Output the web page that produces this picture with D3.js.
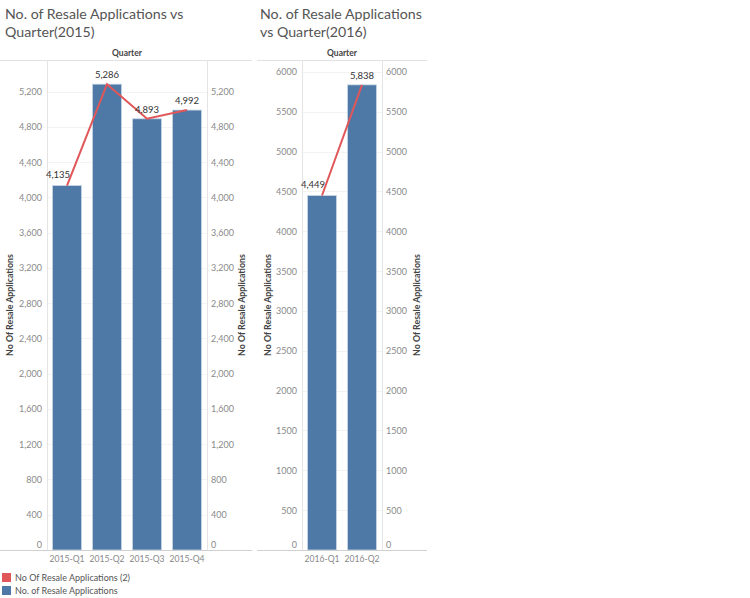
<!DOCTYPE html>
<html>
<head>
<meta charset="utf-8">
<script src="https://cdn.jsdelivr.net/npm/d3@7"></script>
<style>
  html, body { margin: 0; padding: 0; background: #fff; }
  svg { display: block; font-family: Lato, "Open Sans", sans-serif; }
</style>
</head>
<body>
<svg id="chart" width="750" height="598"></svg>
<script>
// ---- data ----
const quarters2015 = ["2015-Q1", "2015-Q2", "2015-Q3", "2015-Q4"];
const values2015 = [4135, 5286, 4893, 4992];
const ticks2015 = [0, 400, 800, 1200, 1600, 2000, 2400, 2800, 3200, 3600, 4000, 4400, 4800, 5200];

const quarters2016 = ["2016-Q1", "2016-Q2"];
const values2016 = [4449, 5838];
const ticks2016 = [0, 500, 1000, 1500, 2000, 2500, 3000, 3500, 4000, 4500, 5000, 5500, 6000];

const titles = [["No. of Resale Applications vs", "Quarter(2015)"], ["No. of Resale Applications", "vs Quarter(2016)"]];
const legendLabels = ["No Of Resale Applications (2)", "No. of Resale Applications"];
const axisTitle = "No Of Resale Applications";
const headerTitle = "Quarter";

// ---- style ----
const BAR = "#4e79a7", LINE = "#e15759";
const svg = d3.select("#chart");

function panel(cfg) {
  const g = svg.append("g");
  const x = d3.scaleBand().domain(cfg.cats).range([cfg.x0, cfg.x1]).paddingInner(0.25).paddingOuter(0.125);
  const y = d3.scaleLinear().domain([0, cfg.ymax]).range([550, 60]);

  // title
  const t = g.append("text").attr("x", cfg.tx).attr("y", 19)
    .attr("font-size", 14.2).attr("fill", "#555");
  cfg.title.forEach((s, i) => t.append("tspan").attr("x", cfg.tx).attr("dy", i ? 18 : 0).text(s));

  // header
  g.append("text").attr("x", (cfg.x0 + cfg.x1) / 2).attr("y", 56).attr("text-anchor", "middle")
    .attr("font-size", 8.5).attr("font-weight", "bold").attr("fill", "#444").text(headerTitle);
  g.append("line").attr("x1", cfg.lx0).attr("x2", cfg.lx1).attr("y1", 60.5).attr("y2", 60.5)
    .attr("stroke", "#e2e2e2");

  // gridlines
  g.append("g").selectAll("line").data(cfg.ticks.filter(d => d > 0)).join("line")
    .attr("x1", cfg.x0).attr("x2", cfg.x1)
    .attr("y1", d => Math.round(y(d)) + 0.5).attr("y2", d => Math.round(y(d)) + 0.5)
    .attr("stroke", "#f3f3f3");

  // vertical borders
  [cfg.x0, cfg.x1].forEach(xx => g.append("line").attr("x1", xx + 0.5).attr("x2", xx + 0.5)
    .attr("y1", 60).attr("y2", 550).attr("stroke", "#e4e4e4"));

  // axes
  const fmt = cfg.fmt;
  const left = g.append("g").attr("transform", `translate(${cfg.x0 - 5},0)`)
    .call(d3.axisLeft(y).tickValues(cfg.ticks).tickFormat(fmt).tickSize(0).tickPadding(0));
  const right = g.append("g").attr("transform", `translate(${cfg.x1 + 4},0)`)
    .call(d3.axisRight(y).tickValues(cfg.ticks).tickFormat(fmt).tickSize(0).tickPadding(0));
  [left, right].forEach(a => {
    a.select(".domain").remove();
    a.selectAll("text").attr("font-size", 9).attr("fill", "#8a8a8a").attr("font-family", "Lato, sans-serif");
    a.selectAll(".tick").filter(d => d === 0).select("text").attr("dy", "-0.3em");
  });

  // bars
  g.append("g").selectAll("rect").data(cfg.vals).join("rect")
    .attr("x", (d, i) => x(cfg.cats[i]) + 0.5)
    .attr("width", x.bandwidth() - 1)
    .attr("y", d => y(d))
    .attr("height", d => 550 - y(d))
    .attr("fill", BAR).attr("stroke", "#c9d6e4").attr("stroke-width", 0.8);

  // bottom baseline
  g.append("line").attr("x1", cfg.lx0).attr("x2", cfg.lx1).attr("y1", 550.5).attr("y2", 550.5)
    .attr("stroke", "#d0d0d0");

  // line
  const line = d3.line().x((d, i) => x(cfg.cats[i]) + x.bandwidth() / 2).y(d => y(d));
  g.append("path").datum(cfg.vals).attr("d", line).attr("fill", "none")
    .attr("stroke", LINE).attr("stroke-width", 2);

  // value labels
  g.append("g").selectAll("text").data(cfg.vals).join("text")
    .attr("x", (d, i) => x(cfg.cats[i]) + x.bandwidth() / 2 + (i === 0 ? -9 : 0))
    .attr("y", (d, i) => y(d) - (i === 0 ? 8 : 6))
    .attr("text-anchor", "middle").attr("font-size", 9.5).attr("fill", "#333")
    .text(d3.format(","));

  // x labels
  g.append("g").selectAll("text").data(cfg.cats).join("text")
    .attr("x", d => x(d) + x.bandwidth() / 2).attr("y", 562)
    .attr("text-anchor", "middle").attr("font-size", 8.6)
    .attr("fill", "#888").text(d => d);

  // axis titles
  cfg.atx.forEach(ax => g.append("text")
    .attr("transform", `translate(${ax},305) rotate(-90)`)
    .attr("text-anchor", "middle").attr("font-size", 8.8).attr("font-weight", "bold")
    .attr("fill", "#444").text(axisTitle));
}

panel({ cats: quarters2015, vals: values2015, ticks: ticks2015, ymax: 5560, fmt: d3.format(","),
  x0: 47, x1: 207, lx0: 0, lx1: 252, tx: 5, title: titles[0], atx: [13, 245] });
panel({ cats: quarters2016, vals: values2016, ticks: ticks2016, ymax: 6150, fmt: d3.format("d"),
  x0: 302, x1: 382, lx0: 257, lx1: 427, tx: 260, title: titles[1], atx: [271, 420] });

// legend
const leg = svg.append("g");
legendLabels.forEach((s, i) => {
  leg.append("rect").attr("x", 2).attr("y", 573 + i * 13).attr("width", 9).attr("height", 9)
    .attr("fill", i === 0 ? LINE : BAR);
  leg.append("text").attr("x", 15).attr("y", 581 + i * 13).attr("font-size", 9)
    .attr("fill", "#555").text(s);
});
</script>
</body>
</html>
